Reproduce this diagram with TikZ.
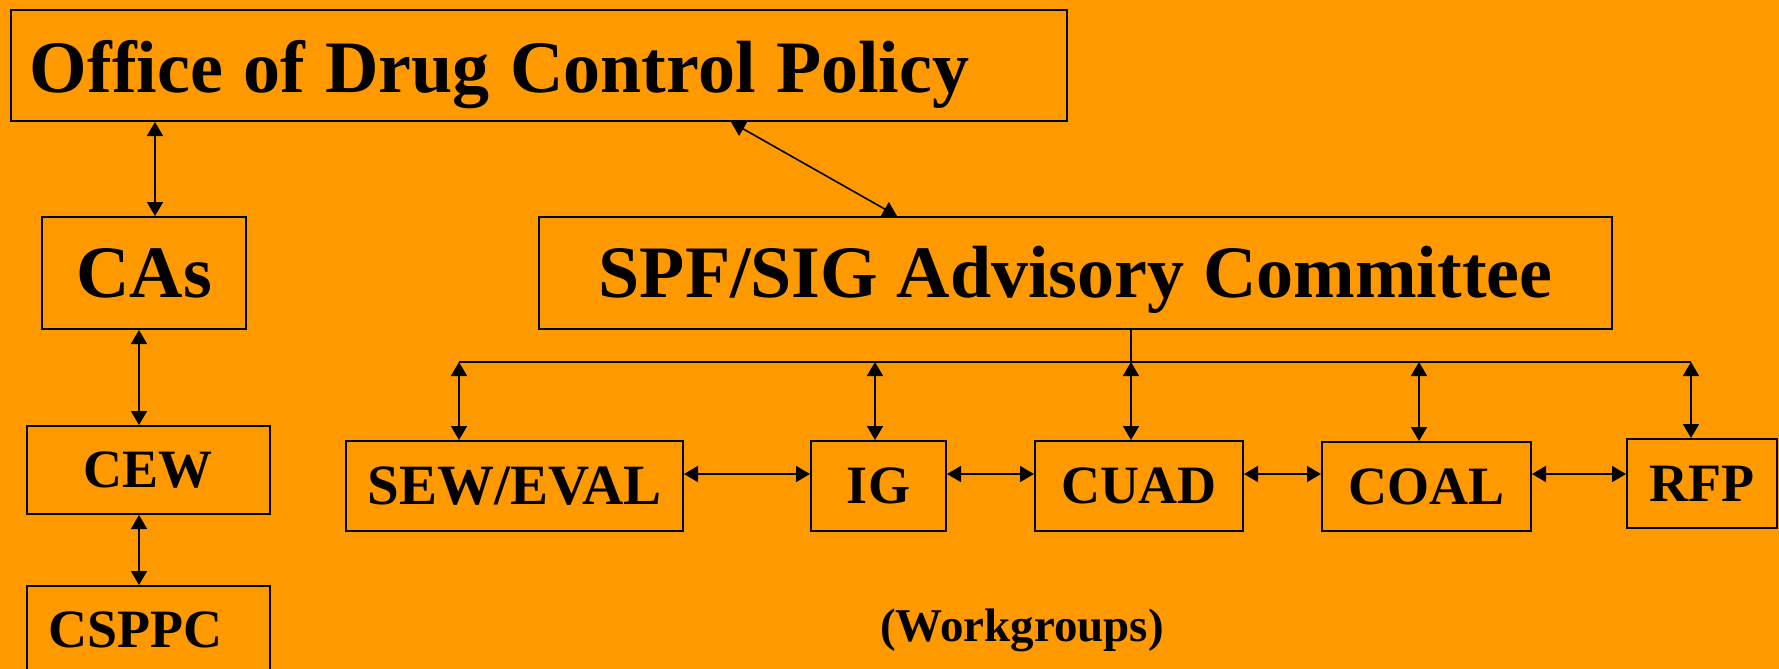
\documentclass[tikz,border=0pt]{standalone}
\usepackage{fontspec}
\setmainfont{Liberation Serif}
\usetikzlibrary{arrows.meta}
\definecolor{bgorange}{RGB}{255,153,0}
\tikzset{
  box/.style={draw=black, line width=1pt, rectangle, inner sep=0pt, font=\bfseries},
  bigbox/.style={box, font=\fontsize{37pt}{40pt}\selectfont\bfseries, text height=24.5pt, text depth=0pt},
  midbox/.style={box, font=\fontsize{27pt}{30pt}\selectfont\bfseries, text height=17.9pt, text depth=0pt},
  dbl/.style={{Triangle[length=7pt,width=8pt]}-{Triangle[length=7pt,width=8pt]}, line width=0.8pt},
  busline/.style={line width=0.9pt},
}
\begin{document}
\begin{tikzpicture}[x=0.5pt,y=-0.5pt]
\useasboundingbox (0,0) rectangle (1779,669);
\clip (0,0) rectangle (1779,669);
\fill[bgorange] (0,0) rectangle (1779,669);

% boxes
\node[bigbox, text height=26.5pt, minimum height=55.5pt, text width=509pt, inner xsep=9.5pt, align=left] (office) at (539,65.5) {\spaceskip=10.2pt\relax Office of Drug Control Policy};
\node[bigbox, minimum width=102pt, minimum height=56pt] (cas) at (144,273) {CAs};
\node[bigbox, minimum width=536.5pt, minimum height=56pt] (spf) at (1075.5,273) {SPF/SIG Advisory Committee};
\node[midbox, minimum width=121.5pt, minimum height=44pt] (cew) at (148.5,470) {CEW};
\node[midbox, minimum height=44pt, text width=100pt, inner xsep=10.75pt, align=left] (csppc) at (148.5,630) {CSPPC};
\node[midbox, font=\fontsize{28.5pt}{30pt}\selectfont\bfseries, text height=18.8pt, minimum width=168.5pt, minimum height=45pt] (sew) at (514.5,486) {SEW/EVAL};
\node[midbox, minimum width=67.5pt, minimum height=45pt] (ig) at (878.5,486) {IG};
\node[midbox, minimum width=104pt, minimum height=45pt] (cuad) at (1139,486) {CUAD};
\node[midbox, minimum width=104.5pt, minimum height=44.5pt] (coal) at (1426.5,486.5) {COAL};
\node[midbox, minimum width=75pt, minimum height=44.5pt] (rfp) at (1702,483.5) {RFP};
\node[font=\fontsize{23.5pt}{26pt}\selectfont\bfseries, text height=15.6pt, text depth=0pt, inner sep=0pt] (wg) at (1022,626) {(Workgroups)};

% left column connectors
\coordinate (c1) at ([xshift=5.5pt]cas.north);
\draw[dbl] (c1 |- office.south) -- (c1);
\coordinate (c2) at ([xshift=-2.5pt]cas.south);
\draw[dbl] (c2) -- (c2 |- cew.north);
\coordinate (c3) at ([xshift=-4.75pt]cew.south);
\draw[dbl] (c3) -- (c3 |- csppc.north);

% office to committee
\draw[dbl] ([xshift=360.5pt]office.south west) -- ([xshift=179.5pt]spf.north west);

% bus
\coordinate (b1) at (459,362);
\coordinate (b2) at (875,362);
\coordinate (b3) at (1131,362);
\coordinate (b4) at (1419,362);
\coordinate (b5) at (1691,362);
\draw[line width=0.8pt] (b3 |- spf.south) -- (b3);
\draw[busline] (b1) -- (b5);
\draw[dbl] (b1) -- (b1 |- sew.north);
\draw[dbl] (b2) -- (b2 |- ig.north);
\draw[dbl] (b3) -- (b3 |- cuad.north);
\draw[dbl] (b4) -- (b4 |- coal.north);
\draw[dbl] (b5) -- (b5 |- rfp.north);

% workgroup links
\coordinate (h1) at ([yshift=6pt]sew.east);
\draw[dbl] (h1) -- (h1 -| ig.west);
\coordinate (h2) at ([yshift=6pt]ig.east);
\draw[dbl] (h2) -- (h2 -| cuad.west);
\coordinate (h3) at ([yshift=6pt]cuad.east);
\draw[dbl] (h3) -- (h3 -| coal.west);
\coordinate (h4) at ([yshift=6.25pt]coal.east);
\draw[dbl] (h4) -- (h4 -| rfp.west);
\end{tikzpicture}
\end{document}
